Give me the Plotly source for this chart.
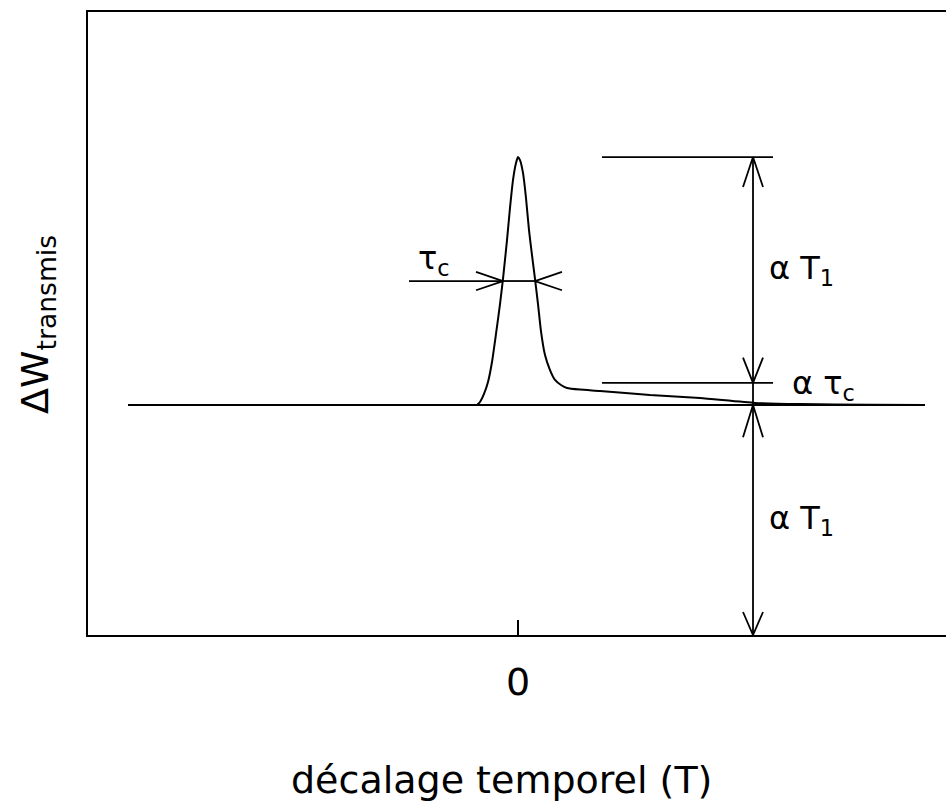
import plotly.graph_objects as go

# Transmitted-energy pulse versus time offset (arbitrary units)
t_pulse = [-0.41, -0.38, -0.34, -0.30, -0.26, -0.22, -0.18, -0.15, -0.11, -0.08,
           -0.05, -0.02, 0.00, 0.02, 0.05, 0.08, 0.11, 0.14, 0.17, 0.20,
           0.23, 0.27, 0.32, 0.37, 0.43, 0.49, 0.62, 0.82, 1.32, 1.82,
           2.37, 2.82, 3.52, 4.07]
w_pulse = [1.000, 1.013, 1.048, 1.100, 1.187, 1.309, 1.439, 1.548, 1.717, 1.857,
           1.978, 2.052, 2.078, 2.065, 2.009, 1.900, 1.760, 1.652, 1.548, 1.439,
           1.320, 1.217, 1.152, 1.109, 1.087, 1.074, 1.067, 1.061, 1.043, 1.030,
           1.009, 1.004, 1.001, 1.000]

# Baseline extent and levels
t_base = [-3.90, 4.07]
alpha_T1 = 1.0          # baseline level (alpha T1 above the axis)
alpha_tau_c = 0.096     # slow tail amplitude (alpha tau_c)

tick_vals = [0]
tick_text = ["0"]

# Geometry of the dimension markers (data units)
x_dim = 2.35
x_ref_lines = [0.84, 2.55]
fwhm_left, fwhm_right = -0.15, 0.17
fwhm_tail = -1.09

FONT = "DejaVu Sans"
BLACK = "black"

peak = max(w_pulse)
half = alpha_T1 + (peak - alpha_T1) / 2

fig = go.Figure()


def add_line(xs, ys, width=2):
    fig.add_trace(go.Scatter(x=xs, y=ys, mode="lines", hoverinfo="skip",
                             line=dict(color=BLACK, width=width), showlegend=False))


def v_barbs(x, y, sign, dx=0.10, dy=0.13):
    # open arrowhead; sign=+1 points up, -1 points down
    add_line([x - dx, x, x + dx], [y - sign * dy, y, y - sign * dy], 1.8)


def h_barbs(x, y, sign, dx=0.27, dy=0.04):
    # open arrowhead; sign=+1 points right, -1 points left
    add_line([x - sign * dx, x, x - sign * dx], [y + dy, y, y - dy], 1.8)


# baseline and pulse
add_line(t_base, [alpha_T1, alpha_T1], 2)
fig.add_trace(go.Scatter(x=t_pulse, y=w_pulse, mode="lines", hoverinfo="skip",
                         line=dict(color=BLACK, width=2, shape="spline", smoothing=0.5),
                         showlegend=False))

# FWHM marker (tau_c)
add_line([fwhm_tail, fwhm_left], [half, half], 1.8)
add_line([fwhm_left, fwhm_right], [half, half], 1.8)
h_barbs(fwhm_left, half, +1)
h_barbs(fwhm_right, half, -1)

# reference lines at peak and at tail level
add_line(x_ref_lines, [peak, peak], 1.8)
add_line(x_ref_lines, [alpha_T1 + alpha_tau_c] * 2, 1.8)

# vertical dimension line with arrowheads
add_line([x_dim, x_dim], [0, peak], 1.8)
v_barbs(x_dim, peak, +1)
v_barbs(x_dim, alpha_T1 + alpha_tau_c, -1, dy=0.11)
v_barbs(x_dim, alpha_T1, +1, dy=0.14)
v_barbs(x_dim, 0, -1, dy=0.10)

annotations = [
    dict(x=x_dim + 0.14, y=(peak + alpha_T1 + alpha_tau_c) / 2,
         text="α T<sub>1</sub>", xanchor="left", yanchor="middle"),
    dict(x=x_dim + 0.14, y=alpha_T1 / 2,
         text="α T<sub>1</sub>", xanchor="left", yanchor="middle"),
    dict(x=x_dim + 0.37, y=alpha_T1 + alpha_tau_c - 0.01,
         text="α τ<sub>c</sub>", xanchor="left", yanchor="middle"),
    dict(x=-1.02, y=half + 0.09,
         text="τ<sub>c</sub>", xanchor="left", yanchor="middle"),
]
for a in annotations:
    a.update(xref="x", yref="y", showarrow=False,
             font=dict(family=FONT, size=32, color=BLACK))

W, H = 946, 808
ML, MR, MT, MB = 88, 0, 12, 173
pw, ph = W - ML - MR, H - MT - MB

annotations += [
    dict(xref="paper", yref="paper", x=(501 - ML) / pw, y=(MT + ph - 780) / ph,
         text="décalage temporel (T)", showarrow=False, xanchor="center",
         yanchor="middle", font=dict(family=FONT, size=38, color=BLACK)),
    dict(xref="paper", yref="paper", x=(38 - ML) / pw, y=(MT + ph - 325) / ph,
         text="ΔW<sub>transmis</sub>", showarrow=False, textangle=-90,
         xanchor="center", yanchor="middle",
         font=dict(family=FONT, size=38, color=BLACK)),
]

fig.update_layout(
    width=W, height=H, autosize=False,
    margin=dict(l=ML, r=MR, t=MT, b=MB),
    paper_bgcolor="white", plot_bgcolor="white",
    annotations=annotations,
    xaxis=dict(range=[-4.30, 4.28], showgrid=False, zeroline=False,
               showline=True, mirror=True, linecolor=BLACK, linewidth=2,
               tickvals=tick_vals, ticktext=tick_text, ticks="inside",
               ticklen=15, tickwidth=2, tickcolor=BLACK, ticklabelstandoff=12,
               tickfont=dict(family=FONT, size=38, color=BLACK)),
    yaxis=dict(range=[0, ph / 230], showgrid=False, zeroline=False,
               showline=True, mirror=False, linecolor=BLACK, linewidth=2,
               showticklabels=False, ticks=""),
)

fig.write_html("out.html")
